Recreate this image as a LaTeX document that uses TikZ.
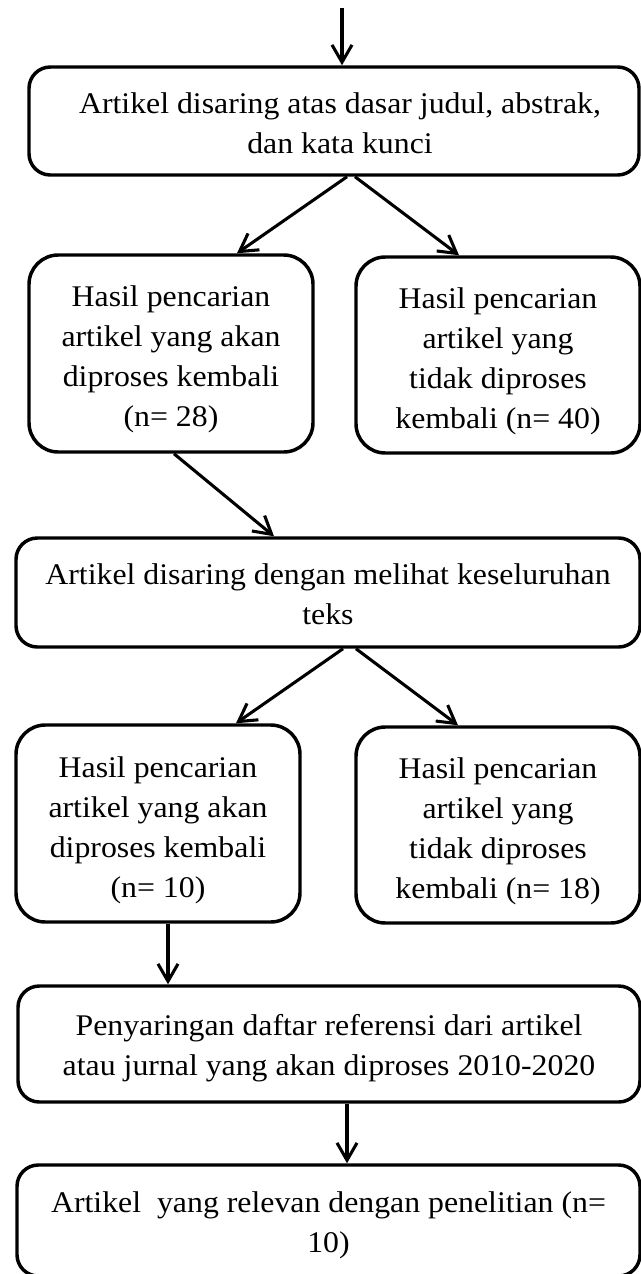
\documentclass[tikz,border=0pt]{standalone}
\usepackage{fontspec}
\setmainfont{Liberation Serif}
\usepackage{graphicx}
\usetikzlibrary{arrows.meta}
\newcommand{\bxtext}[1]{\scalebox{1.06}[1]{\begin{tabular}{@{}c@{}}#1\end{tabular}}}
\tikzset{
  flowbox/.style={draw, line width=2.6pt, rounded corners=#1, inner sep=0pt},
  flowbox/.default=16pt,
  boxtext/.style={inner sep=0pt, font=\fontsize{22.5}{30}\selectfont},
  flowarrow/.style={line width=2.3pt, -{Straight Barb[length=13pt,width=15pt,line width=2.3pt]}}
}
\begin{document}
\begin{tikzpicture}[x=0.75pt,y=-0.75pt]
\useasboundingbox (0,0) rectangle (641,1274);
\clip (0,0) rectangle (641,1274);
\node[flowbox, minimum width=610*0.75pt, minimum height=108*0.75pt] (b1) at (334,121) {};
\node[flowbox=22pt, minimum width=284*0.75pt, minimum height=197*0.75pt] (a1) at (171,353.5) {};
\node[flowbox=22pt, minimum width=284*0.75pt, minimum height=196*0.75pt] (r1) at (498,355) {};
\node[flowbox, minimum width=624*0.75pt, minimum height=109*0.75pt] (b2) at (328,592.5) {};
\node[flowbox=22pt, minimum width=284*0.75pt, minimum height=197*0.75pt] (a2) at (158,823.5) {};
\node[flowbox=22pt, minimum width=284*0.75pt, minimum height=196*0.75pt] (r2) at (498,825) {};
\node[flowbox, minimum width=622*0.75pt, minimum height=116*0.75pt] (b3) at (329,1044) {};
\node[flowbox, minimum width=623*0.75pt, minimum height=111*0.75pt] (b4) at (328.5,1220.5) {};

\node[boxtext] (t1) at ([shift={(6,4)}]b1.center)
  {\bxtext{Artikel disaring atas dasar judul, abstrak,\\dan kata kunci}};
\node[boxtext] (ta1) at ([shift={(0,5)}]a1.center)
  {\bxtext{Hasil pencarian\\artikel yang akan\\diproses kembali\\(n= 28)}};
\node[boxtext] (tr1) at ([shift={(0,5)}]r1.center)
  {\bxtext{Hasil pencarian\\artikel yang\\tidak diproses\\kembali (n= 40)}};
\node[boxtext] (t2) at ([shift={(0,4)}]b2.center)
  {\bxtext{Artikel disaring dengan melihat keseluruhan\\teks}};
\node[boxtext] (ta2) at ([shift={(0,6)}]a2.center)
  {\bxtext{Hasil pencarian\\artikel yang akan\\diproses kembali\\(n= 10)}};
\node[boxtext] (tr2) at ([shift={(0,5)}]r2.center)
  {\bxtext{Hasil pencarian\\artikel yang\\tidak diproses\\kembali (n= 18)}};
\node[boxtext] (t3) at ([shift={(0,3)}]b3.center)
  {\bxtext{Penyaringan daftar referensi dari artikel\\atau jurnal yang akan diproses 2010-2020}};
\node[boxtext] (t4) at ([shift={(0,4)}]b4.center)
  {\bxtext{Artikel\ \ yang relevan dengan penelitian (n=\\10)}};

\coordinate (top) at (342,8);
\draw[flowarrow] (top) -- (top |- b1.north);
\draw[flowarrow] (b1.south -| 347,0) -- (a1.north -| 237,0);
\draw[flowarrow] (b1.south -| 355,0) -- (r1.north -| 459,0);
\draw[flowarrow] (a1.south -| 174,0) -- (b2.north -| 274,0);
\draw[flowarrow] (b2.south -| 343,0) -- (a2.north -| 236,0);
\draw[flowarrow] (b2.south -| 356,0) -- (r2.north -| 458,0);
\draw[flowarrow] (a2.south -| 168,0) -- (b3.north -| 168,0);
\draw[flowarrow] (b3.south -| 347,0) -- (b4.north -| 347,0);
\end{tikzpicture}
\end{document}
